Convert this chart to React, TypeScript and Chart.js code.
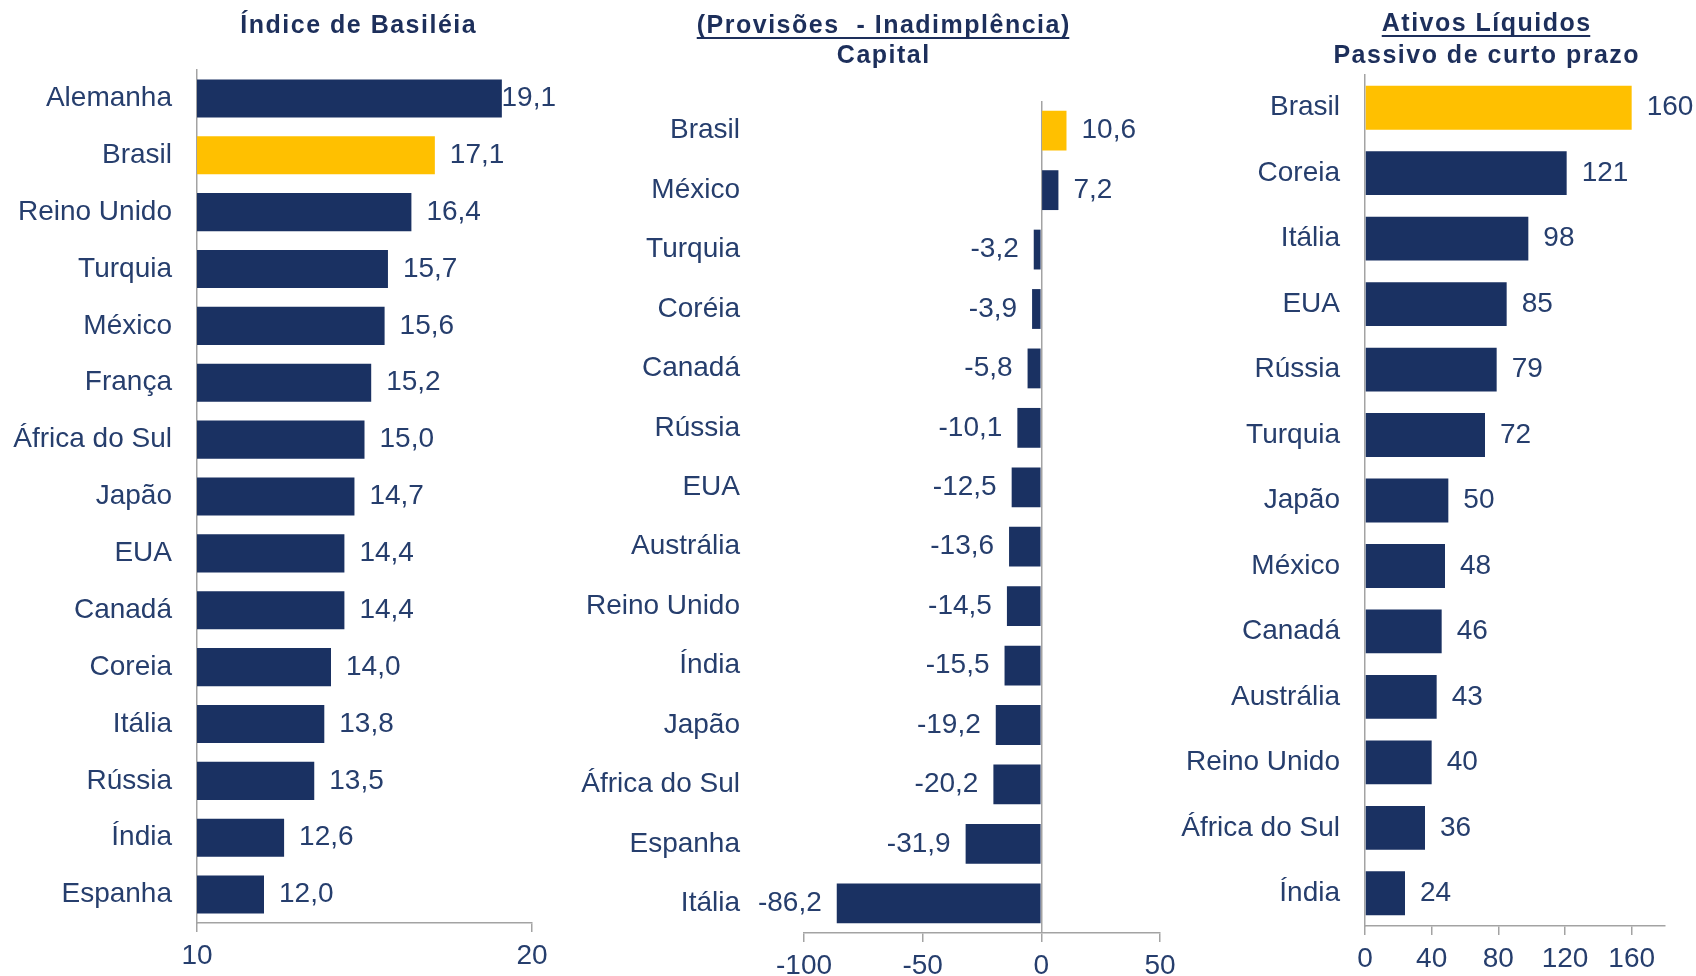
import React, { useEffect, useRef } from 'react';
import { Chart, registerables } from 'chart.js';

Chart.register(...registerables);

// ---------- data ----------
const basileiaCategories = ['Alemanha', 'Brasil', 'Reino Unido', 'Turquia', 'México', 'França', 'África do Sul', 'Japão', 'EUA', 'Canadá', 'Coreia', 'Itália', 'Rússia', 'Índia', 'Espanha'];
const basileiaValues = [19.1, 17.1, 16.4, 15.7, 15.6, 15.2, 15.0, 14.7, 14.4, 14.4, 14.0, 13.8, 13.5, 12.6, 12.0];
const basileiaTicks = [10, 20];

const provisoesCategories = ['Brasil', 'México', 'Turquia', 'Coréia', 'Canadá', 'Rússia', 'EUA', 'Austrália', 'Reino Unido', 'Índia', 'Japão', 'África do Sul', 'Espanha', 'Itália'];
const provisoesValues = [10.6, 7.2, -3.2, -3.9, -5.8, -10.1, -12.5, -13.6, -14.5, -15.5, -19.2, -20.2, -31.9, -86.2];
const provisoesTicks = [-100, -50, 0, 50];

const ativosCategories = ['Brasil', 'Coreia', 'Itália', 'EUA', 'Rússia', 'Turquia', 'Japão', 'México', 'Canadá', 'Austrália', 'Reino Unido', 'África do Sul', 'Índia'];
const ativosValues = [160, 121, 98, 85, 79, 72, 50, 48, 46, 43, 40, 36, 24];
const ativosTicks = [0, 40, 80, 120, 160];

const highlightCategory = 'Brasil';

// ---------- style ----------
const W = 1696;
const H = 976;
const NAVY = '#1a3162';
const GOLD = '#ffc000';
const TEXT = '#263e6d';
const TITLE = '#1d2f5b';
const AXIS = '#a3a3a3';
const FONT = '"Liberation Sans", Arial, sans-serif';
const TITLE_SPACING = 1.5;

type TitleLine = { text: string; x: number; y: number; underline?: boolean };
type Spec = {
  categories: string[];
  values: number[];
  ticks: number[];
  min: number;
  max: number;
  area: { left: number; right: number; top: number; bottom: number };
  labelPad: number;
  yBorder: boolean;
  zeroLine: boolean;
  decimals: number;
  labelMaxX?: number;
  titles: TitleLine[];
};

const fmt = (v: number, d: number) => v.toFixed(d).replace('.', ',');

function makeConfig(spec: Spec): any {
  const valueLabels = {
    id: 'valueLabels',
    afterDatasetsDraw(chart: any) {
      const ctx = chart.ctx;
      const meta = chart.getDatasetMeta(0);
      ctx.save();
      ctx.font = `28px ${FONT}`;
      ctx.fillStyle = TEXT;
      ctx.textBaseline = 'middle';
      meta.data.forEach((bar: any, i: number) => {
        const v = spec.values[i];
        const txt = fmt(v, spec.decimals);
        const w = ctx.measureText(txt).width;
        const gap = 15;
        if (v >= 0) {
          let x = bar.x + gap;
          if (spec.labelMaxX && x + w > spec.labelMaxX) x = spec.labelMaxX - w;
          ctx.textAlign = 'left';
          ctx.fillText(txt, x, bar.y);
        } else {
          ctx.textAlign = 'right';
          ctx.fillText(txt, bar.x - gap, bar.y);
        }
      });
      ctx.restore();
    },
  };

  const panelTitles = {
    id: 'panelTitles',
    afterDraw(chart: any) {
      const ctx = chart.ctx;
      ctx.save();
      ctx.font = `bold 25px ${FONT}`;
      (ctx as any).letterSpacing = `${TITLE_SPACING}px`;
      ctx.fillStyle = TITLE;
      ctx.textAlign = 'center';
      ctx.textBaseline = 'alphabetic';
      spec.titles.forEach((t) => {
        ctx.fillText(t.text, t.x + TITLE_SPACING / 2, t.y);
        if (t.underline) {
          const w = ctx.measureText(t.text).width - TITLE_SPACING;
          ctx.fillRect(t.x - w / 2, t.y + 4, w, 2);
        }
      });
      ctx.restore();
    },
  };

  const { area } = spec;

  return {
    type: 'bar',
    data: {
      labels: spec.categories,
      datasets: [
        {
          data: spec.values,
          backgroundColor: spec.categories.map((c) => (c === highlightCategory ? GOLD : NAVY)),
          borderWidth: 0,
          barPercentage: 0.67,
          categoryPercentage: 1,
        },
      ],
    },
    options: {
      indexAxis: 'y',
      responsive: false,
      animation: false,
      devicePixelRatio: 1,
      layout: { padding: { left: 0, top: area.top, right: W - area.right, bottom: 0 } },
      plugins: { legend: { display: false }, tooltip: { enabled: false }, title: { display: false } },
      scales: {
        x: {
          type: 'linear',
          min: spec.min,
          max: spec.max,
          afterBuildTicks: (scale: any) => {
            scale.ticks = spec.ticks.map((v) => ({ value: v }));
          },
          afterFit: (scale: any) => {
            scale.height = H - area.bottom;
            scale.paddingLeft = 0;
            scale.paddingRight = 0;
          },
          grid: {
            drawOnChartArea: spec.zeroLine,
            color: (c: any) => (c.tick && c.tick.value === 0 ? AXIS : 'rgba(0,0,0,0)'),
            tickColor: AXIS,
            tickLength: 9,
            lineWidth: 1.5,
          },
          border: { display: true, color: AXIS, width: 1.5 },
          ticks: {
            color: TEXT,
            font: { family: FONT, size: 28 },
            padding: 7,
            maxRotation: 0,
            autoSkip: false,
            callback: (v: any) => String(v),
          },
        },
        y: {
          type: 'category',
          afterFit: (scale: any) => {
            scale.width = area.left;
            scale.paddingTop = 0;
            scale.paddingBottom = 0;
          },
          grid: { display: false, drawTicks: false },
          border: { display: spec.yBorder, color: AXIS, width: 1.5 },
          ticks: {
            color: TEXT,
            font: { family: FONT, size: 28 },
            padding: spec.labelPad,
            autoSkip: false,
          },
        },
      },
    },
    plugins: [valueLabels, panelTitles],
  };
}

const specs: Spec[] = [
  {
    categories: basileiaCategories,
    values: basileiaValues,
    ticks: basileiaTicks,
    min: 10,
    max: 20,
    area: { left: 197, right: 532, top: 70, bottom: 923 },
    labelPad: 25,
    yBorder: true,
    zeroLine: false,
    decimals: 1,
    labelMaxX: 556,
    titles: [{ text: 'Índice de Basiléia', x: 358, y: 33 }],
  },
  {
    categories: provisoesCategories,
    values: provisoesValues,
    ticks: provisoesTicks,
    min: -100,
    max: 50,
    area: { left: 804, right: 1160, top: 101, bottom: 933 },
    labelPad: 64,
    yBorder: false,
    zeroLine: true,
    decimals: 1,
    titles: [
      { text: '(Provisões  - Inadimplência)', x: 883, y: 33, underline: true },
      { text: 'Capital', x: 883, y: 63 },
    ],
  },
  {
    categories: ativosCategories,
    values: ativosValues,
    ticks: ativosTicks,
    min: 0,
    max: 180,
    area: { left: 1365, right: 1665, top: 75, bottom: 926 },
    labelPad: 25,
    yBorder: true,
    zeroLine: false,
    decimals: 0,
    titles: [
      { text: 'Ativos Líquidos', x: 1486, y: 31, underline: true },
      { text: 'Passivo de curto prazo', x: 1486, y: 63 },
    ],
  },
];

function Panel({ spec }: { spec: Spec }) {
  const ref = useRef<HTMLCanvasElement>(null);
  useEffect(() => {
    if (!ref.current) return;
    const chart = new Chart(ref.current, makeConfig(spec));
    return () => chart.destroy();
  }, [spec]);
  return (
    <canvas
      ref={ref}
      width={W}
      height={H}
      style={{ position: 'absolute', left: 0, top: 0, width: W, height: H }}
    />
  );
}

export default function App() {
  return (
    <div style={{ position: 'absolute', left: 0, top: 0, width: W, height: H, background: '#ffffff', overflow: 'hidden' }}>
      {specs.map((s, i) => (
        <Panel key={i} spec={s} />
      ))}
    </div>
  );
}
